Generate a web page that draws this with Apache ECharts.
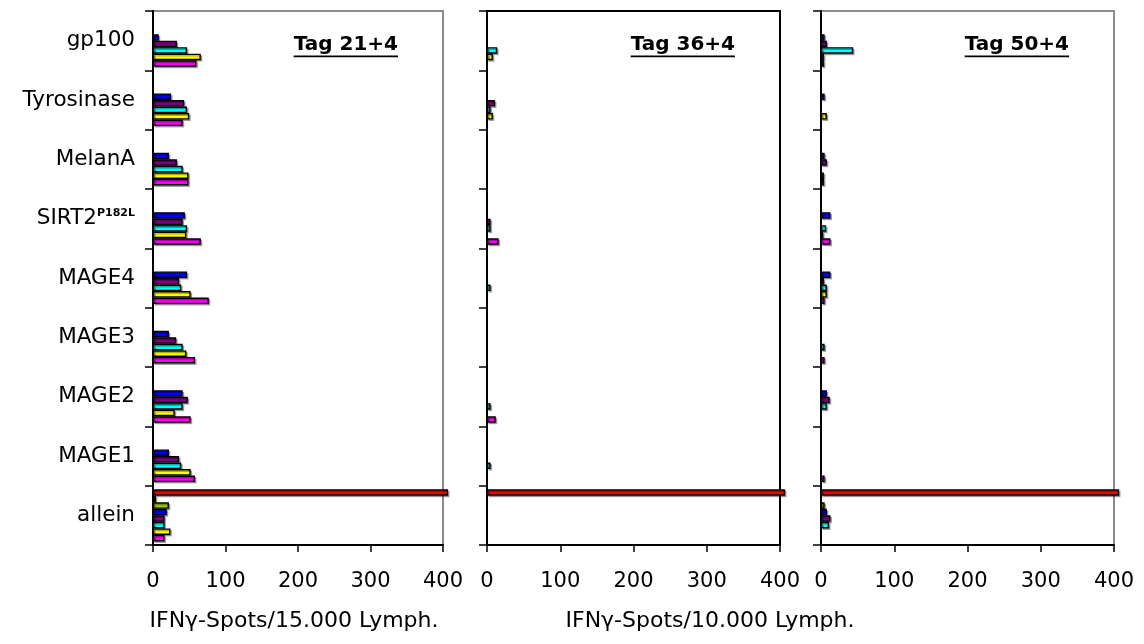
<!DOCTYPE html>
<html><head><meta charset="utf-8">
<script src="https://cdn.jsdelivr.net/npm/echarts@6/dist/echarts.min.js"></script>
<style>html,body{margin:0;padding:0;background:#fff}#c{width:1144px;height:644px}</style>
</head><body><div id="c"></div>
<script>
// Categories (top to bottom) and texts
const categories = ['gp100','Tyrosinase','MelanA','SIRT2','MAGE4','MAGE3','MAGE2','MAGE1','allein'];
const superscripts = {SIRT2: 'P182L'};
const xTicks = [0, 100, 200, 300, 400];
const panelTitles = ['Tag 21+4', 'Tag 36+4', 'Tag 50+4'];
const axisNames = ['IFNγ-Spots/15.000 Lymph.', 'IFNγ-Spots/10.000 Lymph.'];
const seriesNames = ['S1','S2','S3','S4','S5','S6','S7','S8'];
const seriesColors = ['#FF0000','#FF9900','#99CC00','#0000FF','#800080','#00FFFF','#FFFF00','#FF00FF'];

// Panel 1: Tag 21+4 (values per category, top to bottom)
const t21Red     = [0,0,0,0,0,0,0,0,407];
const t21Orange  = [0,0,0,0,0,0,0,0,4];
const t21Olive   = [0,0,0,0,0,0,0,0,22];
const t21Blue    = [8,25,22,44,47,22,41,22,19];
const t21Purple  = [33,43,33,41,36,32,48,36,16];
const t21Cyan    = [47,47,41,47,39,41,41,39,16];
const t21Yellow  = [66,50,49,46,52,46,30,52,24];
const t21Magenta = [60,41,49,66,77,58,52,58,16];

// Panel 2: Tag 36+4
const t36Red     = [0,0,0,0,0,0,0,0,407];
const t36Orange  = [0,0,0,0,0,0,0,0,0];
const t36Olive   = [0,0,0,0,0,0,0,0,0];
const t36Blue    = [0,0,0,0,0,0,0,0,0];
const t36Purple  = [0,11,0,5,0,0,0,0,0];
const t36Cyan    = [14,5,0,5,5,0,5,5,0];
const t36Yellow  = [8,8,0,0,0,0,0,0,0];
const t36Magenta = [0,0,0,16,0,0,12,0,0];

// Panel 3: Tag 50+4
const t50Red     = [0,0,0,0,0,0,0,0,407];
const t50Orange  = [0,0,0,0,0,0,0,0,0];
const t50Olive   = [0,0,0,0,0,0,0,0,5];
const t50Blue    = [5,5,5,13,13,0,8,0,8];
const t50Purple  = [8,0,8,0,4,0,12,0,13];
const t50Cyan    = [44,0,0,7,8,5,8,0,11];
const t50Yellow  = [4,8,4,3,8,0,0,0,0];
const t50Magenta = [4,0,4,13,5,5,0,5,0];

const panels = [
  [t21Red,t21Orange,t21Olive,t21Blue,t21Purple,t21Cyan,t21Yellow,t21Magenta],
  [t36Red,t36Orange,t36Olive,t36Blue,t36Purple,t36Cyan,t36Yellow,t36Magenta],
  [t50Red,t50Orange,t50Olive,t50Blue,t50Purple,t50Cyan,t50Yellow,t50Magenta]
];

const FONT = 'DejaVu Sans';
const gridDefs = [
  {left: 153, width: 290, border: '#8c8c8c'},
  {left: 487, width: 293, border: '#000000'},
  {left: 821, width: 293, border: '#8c8c8c'}
];
const TOP = 11, HEIGHT = 534;

const chart = echarts.init(document.getElementById('c'), null, {renderer: 'canvas'});

const grid = gridDefs.map(g => ({left: g.left, top: TOP, width: g.width, height: HEIGHT,
  show: true, borderColor: g.border, borderWidth: 2, backgroundColor: 'transparent', containLabel: false}));

const xAxis = gridDefs.map((g, i) => ({
  type: 'value', gridIndex: i, min: xTicks[0], max: xTicks[xTicks.length - 1], interval: xTicks[1] - xTicks[0],
  axisLine: {show: true, lineStyle: {color: '#000', width: 2}},
  axisTick: {show: true, length: 7, lineStyle: {color: '#000', width: 1.5}},
  splitLine: {show: false},
  axisLabel: {color: '#000', fontSize: 21, fontFamily: FONT, margin: 26}
}));

const yAxis = gridDefs.map((g, i) => ({
  type: 'category', gridIndex: i, data: categories, inverse: true,
  axisLine: {show: true, lineStyle: {color: '#000', width: 2}},
  axisTick: {show: true, length: 8, lineStyle: {color: '#000', width: 1.5}},
  splitLine: {show: false},
  axisLabel: {
    show: i === 0, interval: 0, color: '#000', fontSize: 21.5, fontFamily: FONT, margin: 18,
    formatter: v => superscripts[v] ? '{a|' + v + '}{b|' + superscripts[v] + '}' : '{a|' + v + '}',
    rich: {
      a: {fontSize: 21.5, fontFamily: FONT, color: '#000'},
      b: {fontSize: 11, fontWeight: 'bold', fontFamily: FONT, color: '#000', padding: [0, 0, 11, 0]}
    }
  }
}));

const series = [];
panels.forEach((arrs, p) => {
  arrs.forEach((arr, s) => {
    series.push({
      type: 'bar', name: seriesNames[s], xAxisIndex: p, yAxisIndex: p,
      data: arr.map(v => v === 0 ? '-' : v),
      barGap: '0%', barCategoryGap: '12%', clip: false, silent: true,
      itemStyle: {color: seriesColors[s], borderColor: '#000', borderWidth: 1.4,
        shadowColor: 'rgba(0,0,0,0.3)', shadowOffsetX: 1.5, shadowOffsetY: 1.5, shadowBlur: 0}
    });
  });
});

// measure text for underline
const ctx = document.createElement('canvas').getContext('2d');
function tw(text, font) { ctx.font = font; return ctx.measureText(text).width; }

const graphic = [];
panelTitles.forEach((t, i) => {
  const g = gridDefs[i];
  const right = g.left + g.width - 45;
  const font = 'bold 20px "' + FONT + '"';
  const w = tw(t, font);
  graphic.push({type: 'text', x: right, y: 45, style: {text: t, font: font, fill: '#000', textAlign: 'right', textVerticalAlign: 'middle'}});
  graphic.push({type: 'rect', shape: {x: right - w, y: 55.5, width: w, height: 1.8}, style: {fill: '#000'}});
});
graphic.push({type: 'text', x: 294, y: 621, style: {text: axisNames[0], font: '22px "' + FONT + '"', fill: '#000', textAlign: 'center', textVerticalAlign: 'middle'}});
graphic.push({type: 'text', x: 710, y: 621, style: {text: axisNames[1], font: '22px "' + FONT + '"', fill: '#000', textAlign: 'center', textVerticalAlign: 'middle'}});

chart.setOption({
  animation: false,
  backgroundColor: '#fff',
  grid, xAxis, yAxis, series, graphic
});
</script>
</body></html>
